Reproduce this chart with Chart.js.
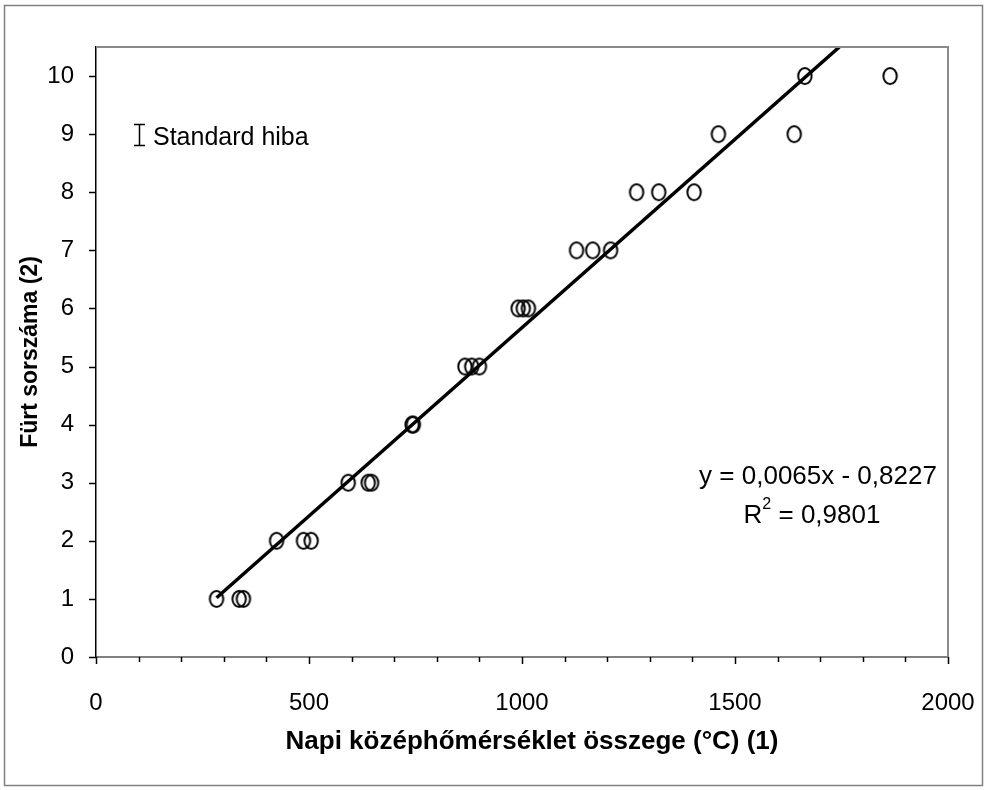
<!DOCTYPE html>
<html>
<head>
<meta charset="utf-8">
<script src="https://cdn.jsdelivr.net/npm/chart.js@4.4.1/dist/chart.umd.min.js"></script>
<style>
  html, body { margin: 0; padding: 0; background: #fff; }
  #wrap { width: 985px; height: 790px; }
</style>
</head>
<body>
<div id="wrap"><canvas id="chart" width="985" height="790"></canvas></div>
<script>
// Napi középhőmérséklet összege (°C) -> fürt sorszáma
const tempSums = [283, 336, 346, 424, 487, 505, 592, 639, 647, 742, 745,
                  866, 882, 900, 991, 1003, 1015, 1128, 1166, 1208,
                  1269, 1321, 1404, 1461, 1639, 1664, 1864];
const clusterNo = [1, 1, 1, 2, 2, 2, 3, 3, 3, 4, 4,
                   5, 5, 5, 6, 6, 6, 7, 7, 7,
                   8, 8, 8, 9, 9, 10, 10];

// linear trendline, start and end
const trendX = [283, 1745];
const trendY = [1.02, 10.5];

const xMajorTicks = [0, 500, 1000, 1500, 2000];
const yTicks = [0, 1, 2, 3, 4, 5, 6, 7, 8, 9, 10];

const FONT = '"Liberation Sans", Arial, sans-serif';

// Excel style hollow marker, a bit taller than wide
function makeMarker() {
  const c = document.createElement('canvas');
  c.width = 20; c.height = 22;
  const g = c.getContext('2d');
  g.strokeStyle = '#000';
  g.lineWidth = 2;
  g.beginPath();
  g.ellipse(10, 11, 6.7, 8.1, 0, 0, Math.PI * 2);
  g.stroke();
  return c;
}

const decor = {
  id: 'decor',
  beforeDraw(chart) {
    const ctx = chart.ctx;
    ctx.save();
    ctx.fillStyle = '#fff';
    ctx.fillRect(0, 0, chart.width, chart.height);
    ctx.restore();
  },
  afterDraw(chart) {
    const { ctx, chartArea: a, scales: { x, y } } = chart;
    ctx.save();

    // outer frame
    ctx.strokeStyle = '#808080';
    ctx.lineWidth = 1.5;
    ctx.strokeRect(4.5, 5.5, 978, 780);

    // plot area frame, top and right
    ctx.strokeStyle = '#8a8a8a';
    ctx.lineWidth = 2;
    ctx.beginPath();
    ctx.moveTo(a.left, a.top);
    ctx.lineTo(a.right, a.top);
    ctx.lineTo(a.right, a.bottom);
    ctx.stroke();

    // tick marks
    ctx.strokeStyle = '#000';
    ctx.lineWidth = 1.5;
    ctx.beginPath();
    x.ticks.forEach(t => {
      const px = Math.round(x.getPixelForValue(t.value)) + 0.5;
      const len = xMajorTicks.includes(t.value) ? 7 : 5;
      ctx.moveTo(px, a.bottom);
      ctx.lineTo(px, a.bottom + len);
    });
    yTicks.forEach(v => {
      const py = Math.round(y.getPixelForValue(v)) + 0.5;
      ctx.moveTo(a.left, py);
      ctx.lineTo(a.left - 7, py);
    });
    ctx.stroke();

    ctx.fillStyle = '#000';
    ctx.textBaseline = 'middle';

    // x axis title, sits a little right of the plot centre
    ctx.font = 'bold 26px ' + FONT;
    ctx.textAlign = 'center';
    ctx.fillText('Napi középhőmérséklet összege (°C) (1)', 532, 742);

    // "Standard hiba" error bar key
    ctx.lineWidth = 1.5;
    ctx.beginPath();
    ctx.moveTo(139.5, 124); ctx.lineTo(139.5, 146);
    ctx.moveTo(134, 124.5); ctx.lineTo(145, 124.5);
    ctx.moveTo(134, 145.5); ctx.lineTo(145, 145.5);
    ctx.stroke();
    ctx.font = '25px ' + FONT;
    ctx.textAlign = 'left';
    ctx.fillText('Standard hiba', 153, 138);

    // trendline equation
    ctx.font = '26px ' + FONT;
    ctx.textAlign = 'center';
    ctx.fillText('y = 0,0065x - 0,8227', 818, 477);
    const rest = ' = 0,9801';
    const wR = ctx.measureText('R').width;
    const wRest = ctx.measureText(rest).width;
    ctx.font = '16px ' + FONT;
    const w2 = ctx.measureText('2').width;
    const start = 812 - (wR + w2 + wRest) / 2;
    ctx.textAlign = 'left';
    ctx.font = '26px ' + FONT;
    ctx.fillText('R', start, 516);
    ctx.font = '16px ' + FONT;
    ctx.fillText('2', start + wR, 505);
    ctx.font = '26px ' + FONT;
    ctx.fillText(rest, start + wR + w2, 516);

    ctx.restore();
  }
};

const marker = makeMarker();

new Chart(document.getElementById('chart'), {
  type: 'scatter',
  data: {
    datasets: [
      {
        label: 'Trend',
        data: trendX.map((v, i) => ({ x: v, y: trendY[i] })),
        showLine: true,
        borderColor: '#000',
        borderWidth: 3.5,
        pointRadius: 0,
        fill: false
      },
      {
        label: 'Fürt',
        data: tempSums.map((v, i) => ({ x: v, y: clusterNo[i] })),
        pointStyle: marker,
        pointRadius: 8,
        showLine: false
      }
    ]
  },
  options: {
    responsive: false,
    devicePixelRatio: 1,
    animation: false,
    events: [],
    layout: { padding: { top: 47, right: 37, left: 0, bottom: 0 } },
    plugins: { legend: { display: false }, tooltip: { enabled: false } },
    scales: {
      x: {
        type: 'linear',
        min: 0,
        max: 2000,
        afterFit: s => { s.height = 133; s.paddingLeft = 0; s.paddingRight = 0; },
        grid: { display: false, drawTicks: false },
        border: { display: true, color: '#808080', width: 2 },
        ticks: {
          stepSize: 100,
          autoSkip: false,
          maxRotation: 0,
          padding: 32,
          color: '#000',
          font: { family: FONT, size: 24 },
          callback: v => xMajorTicks.includes(v) ? String(v) : ''
        },
        title: { display: false }
      },
      y: {
        type: 'linear',
        min: 0,
        max: 10.5,
        afterFit: s => { s.width = 96; s.paddingTop = 0; s.paddingBottom = 0; },
        grid: { display: false, drawTicks: false },
        border: { display: true, color: '#000', width: 1.5 },
        ticks: {
          stepSize: 1,
          includeBounds: false,
          padding: 22,
          color: '#000',
          font: { family: FONT, size: 24 },
          callback: v => yTicks.includes(v) ? String(v) : ''
        },
        title: {
          display: true,
          text: 'Fürt sorszáma (2)',
          color: '#000',
          font: { family: FONT, size: 23, weight: 'bold' },
          padding: { top: 17, bottom: 0 }
        }
      }
    }
  },
  plugins: [decor]
});
</script>
</body>
</html>
